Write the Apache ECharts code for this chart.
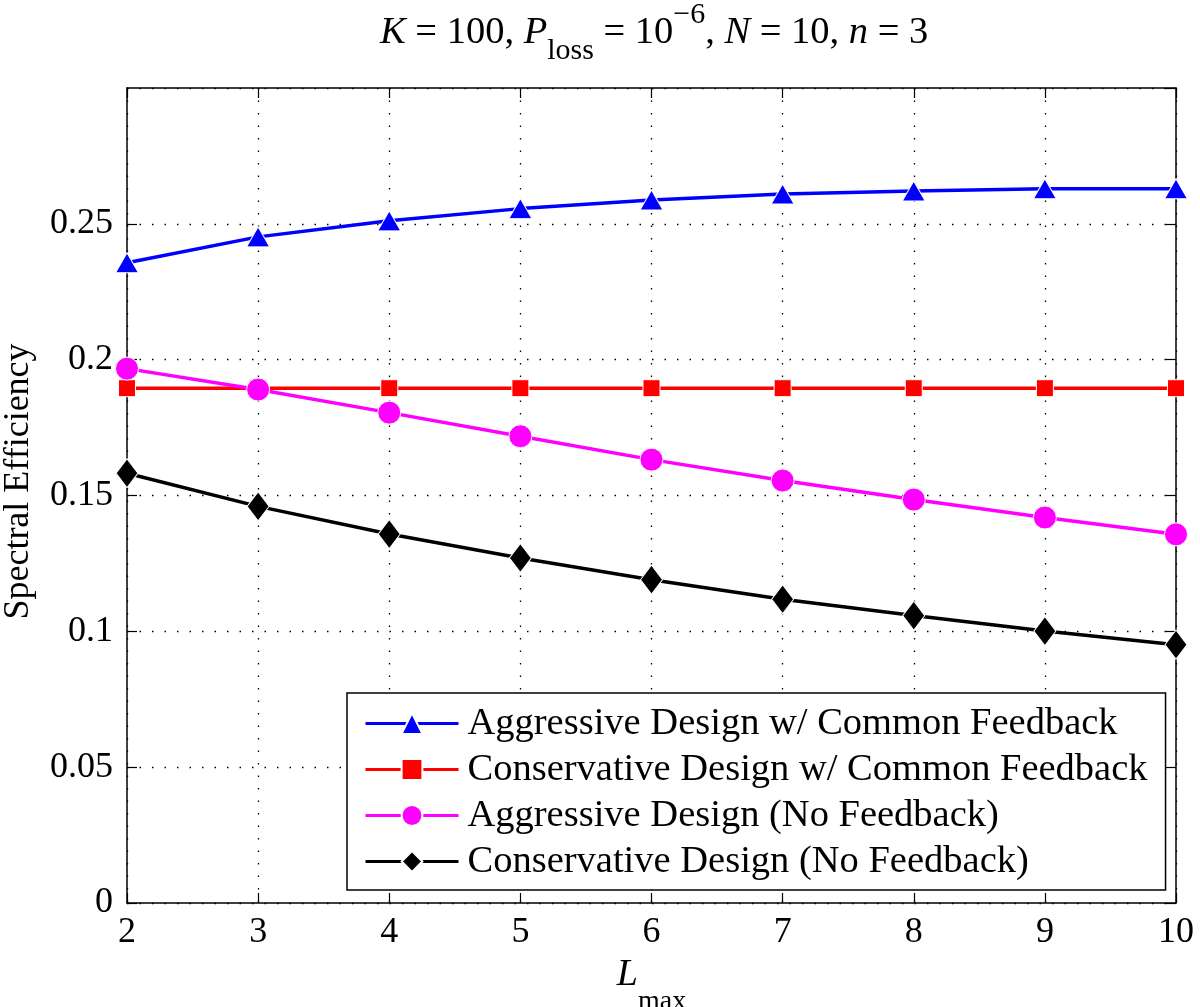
<!DOCTYPE html>
<html>
<head>
<meta charset="utf-8">
<script src="https://cdn.jsdelivr.net/npm/echarts@6/dist/echarts.min.js"></script>
<style>html,body{margin:0;padding:0;background:#fff;}#c{width:1200px;height:1007px;}</style>
</head>
<body>
<div id="c"></div>
<script>
const xValues = [2, 3, 4, 5, 6, 7, 8, 9, 10];
const aggressiveCommon = [0.2357, 0.2452, 0.2511, 0.2556, 0.2588, 0.2610, 0.2621, 0.2629, 0.2629];
const conservativeCommon = [0.1895, 0.1895, 0.1895, 0.1895, 0.1895, 0.1895, 0.1895, 0.1895, 0.1895];
const aggressiveNoFb = [0.1967, 0.1890, 0.1805, 0.1718, 0.1632, 0.1555, 0.1485, 0.1419, 0.1357];
const conservativeNoFb = [0.1582, 0.1460, 0.1358, 0.1270, 0.1190, 0.1118, 0.1058, 0.1001, 0.0951];
const seriesNames = [
  'Aggressive Design w/ Common Feedback',
  'Conservative Design w/ Common Feedback',
  'Aggressive Design (No Feedback)',
  'Conservative Design (No Feedback)'
];
const yMin = 0, yMax = 0.3, yStep = 0.05;
const xMin = 2, xMax = 10, xStep = 1;

const FONT = 'Liberation Serif';
const pairs = arr => xValues.map((x, i) => [x, arr[i]]);

function mkSeries(name, data, color, symbol, size) {
  return {
    name, type: 'line', data: pairs(data),
    symbol, symbolSize: size,
    lineStyle: { color, width: 3.5 },
    itemStyle: { color, borderColor: '#fff', borderWidth: 1 },
    emphasis: { disabled: true },
    animation: false, z: 3
  };
}

const chart = echarts.init(document.getElementById('c'), null, { renderer: 'canvas' });
const axisLineStyle = { color: '#000', width: 1.5 };
chart.setOption({
  backgroundColor: '#fff',
  animation: false,
  title: {
    text: '{i|K} = 100, {i|P}{sub|loss} = 10{sup|\u22126}, {i|N} = 10, {i|n} = 3',
    left: 380, top: 0, padding: 0,
    textStyle: {
      fontFamily: FONT, fontSize: 38.5, fontWeight: 'normal', color: '#000', lineHeight: 66,
      rich: {
        i: { fontFamily: FONT, fontSize: 38.5, fontStyle: 'italic', color: '#000', lineHeight: 66 },
        sub: { fontFamily: FONT, fontSize: 30, color: '#000', lineHeight: 10, verticalAlign: 'bottom' },
        sup: { fontFamily: FONT, fontSize: 30, color: '#000', lineHeight: 22, verticalAlign: 'top' }
      }
    }
  },
  grid: { left: 127, right: 24, top: 88, bottom: 104, outerBoundsMode: 'none', show: false },
  legend: {
    orient: 'vertical', left: 347, top: 693,
    padding: [11, 18, 9, 17],
    itemGap: 7, itemWidth: 93, itemHeight: 26,
    backgroundColor: '#fff', borderColor: '#000', borderWidth: 1.5,
    lineStyle: { width: 3 },
    textStyle: { fontFamily: FONT, fontSize: 38.5, color: '#000', lineHeight: 38, padding: [0, 0, 0, 4] },
    data: seriesNames
  },
  xAxis: [{
    type: 'value', min: xMin, max: xMax, interval: xStep,
    name: '{i|L}{sub|max}', nameLocation: 'middle', nameGap: 50,
    nameTextStyle: {
      fontFamily: FONT, fontSize: 36, color: '#000', lineHeight: 60,
      rich: {
        i: { fontFamily: FONT, fontSize: 38, fontStyle: 'italic', color: '#000', lineHeight: 60, verticalAlign: 'top' },
        sub: { fontFamily: FONT, fontSize: 28, color: '#000', lineHeight: 26, verticalAlign: 'bottom' }
      }
    },
    axisLine: { show: true, onZero: false, lineStyle: axisLineStyle },
    axisTick: { show: true, inside: true, length: 10, lineStyle: { color: '#000', width: 1.2 } },
    axisLabel: { fontFamily: FONT, fontSize: 36, color: '#000', margin: 12 },
    splitLine: { show: true, lineStyle: { color: '#000', width: 1.3, type: [1.5, 11] } }
  }, {
    type: 'value', position: 'top', min: xMin, max: xMax, interval: xStep,
    axisLine: { show: true, onZero: false, lineStyle: axisLineStyle },
    axisTick: { show: true, inside: true, length: 10, lineStyle: { color: '#000', width: 1.2 } },
    axisLabel: { show: false }, splitLine: { show: false }
  }],
  yAxis: [{
    type: 'value', min: yMin, max: yMax, interval: yStep,
    name: 'Spectral Efficiency', nameLocation: 'middle', nameGap: 90, nameRotate: 90,
    nameTextStyle: { fontFamily: FONT, fontSize: 36, color: '#000', padding: [0, 0, 0, 28] },
    axisLine: { show: true, onZero: false, lineStyle: axisLineStyle },
    axisTick: { show: true, inside: true, length: 10, lineStyle: { color: '#000', width: 1.2 } },
    axisLabel: { fontFamily: FONT, fontSize: 36, color: '#000', margin: 14, showMaxLabel: false,
      formatter: v => (Math.abs(v - yMax) < 1e-9 ? '' : String(+v.toFixed(2))) },
    splitLine: { show: true, lineStyle: { color: '#000', width: 1.3, type: [1.5, 11] } }
  }, {
    type: 'value', position: 'right', min: yMin, max: yMax, interval: yStep,
    axisLine: { show: true, onZero: false, lineStyle: axisLineStyle },
    axisTick: { show: true, inside: true, length: 10, lineStyle: { color: '#000', width: 1.2 } },
    axisLabel: { show: false }, splitLine: { show: false }
  }],
  series: [
    mkSeries(seriesNames[0], aggressiveCommon, '#0000ff', 'triangle', [23, 20]),
    mkSeries(seriesNames[1], conservativeCommon, '#ff0000', 'rect', 17),
    mkSeries(seriesNames[2], aggressiveNoFb, '#ff00ff', 'circle', 23),
    mkSeries(seriesNames[3], conservativeNoFb, '#000000', 'diamond', [22, 29])
  ]
});
</script>
</body>
</html>
